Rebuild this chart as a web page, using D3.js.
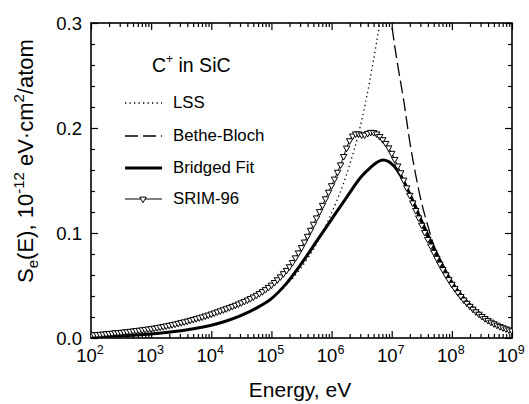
<!DOCTYPE html>
<html><head><meta charset="utf-8">
<script src="https://cdn.jsdelivr.net/npm/d3@7/dist/d3.min.js"></script>
<style>
body{margin:0;background:#fff}
svg{display:block}
text{font-family:"Liberation Sans",Arial,Helvetica,sans-serif;fill:#000}
</style>
</head><body>
<svg id="chart" width="529" height="404"></svg>
<script>
// ---------------- data (log10 of energy in eV, Se in 1e-12 eV cm^2/atom) ----------------
const xTickExponents = [2, 3, 4, 5, 6, 7, 8, 9];
const yTickValues = [0.0, 0.1, 0.2, 0.3];
const yTickLabels = ["0.0", "0.1", "0.2", "0.3"];
const legendTitle = "C";
const legendNames = ["LSS", "Bethe-Bloch", "Bridged Fit", "SRIM-96"];

const lssLogE = [2.0, 2.5, 3.0, 3.5, 4.0, 4.5, 5.0, 5.25, 5.5, 5.75, 6.0, 6.25, 6.5, 6.75, 6.9];
const lssS    = [0.0012, 0.0022, 0.0039, 0.0069, 0.0122, 0.0216, 0.0380, 0.0505, 0.0675, 0.0895, 0.119, 0.156, 0.207, 0.282, 0.335];

const betheLogE = [6.95, 7.0, 7.1, 7.2, 7.3, 7.4, 7.5, 7.6, 7.7, 7.8, 7.9, 8.0, 8.25, 8.5, 8.75, 9.0];
const betheS    = [0.330, 0.300, 0.260, 0.226, 0.187, 0.155, 0.128, 0.107, 0.088, 0.073, 0.062, 0.053, 0.035, 0.0215, 0.0125, 0.0066];

const bridgedLogE = [2.0, 2.25, 2.5, 2.75, 3.0, 3.25, 3.5, 3.75, 4.0, 4.25, 4.5, 4.75, 5.0, 5.25, 5.5, 5.75, 6.0, 6.25, 6.5, 6.65, 6.75, 6.85, 6.95, 7.05, 7.15, 7.25, 7.35, 7.5, 7.75, 8.0, 8.25, 8.5, 8.75, 9.0];
const bridgedS    = [0.0012, 0.0016, 0.0022, 0.0029, 0.0039, 0.0052, 0.0069, 0.0092, 0.0122, 0.0162, 0.0215, 0.0285, 0.0375, 0.0520, 0.0710, 0.0920, 0.1130, 0.1340, 0.1540, 0.1625, 0.1672, 0.1695, 0.1680, 0.1630, 0.1545, 0.1435, 0.1310, 0.1110, 0.0800, 0.0530, 0.0345, 0.0215, 0.0125, 0.0065];

const srimLogE = [2.00,2.05,2.10,2.15,2.20,2.25,2.30,2.35,2.40,2.45,2.50,2.55,2.60,2.65,2.70,2.75,2.80,2.85,2.90,2.95,
3.00,3.05,3.10,3.15,3.20,3.25,3.30,3.35,3.40,3.45,3.50,3.55,3.60,3.65,3.70,3.75,3.80,3.85,3.90,3.95,
4.00,4.05,4.10,4.15,4.20,4.25,4.30,4.35,4.40,4.45,4.50,4.55,4.60,4.65,4.70,4.75,4.80,4.85,4.90,4.95,
5.00,5.05,5.10,5.15,5.20,5.25,5.30,5.35,5.40,5.45,5.50,5.55,5.60,5.65,5.70,5.75,5.80,5.85,5.90,5.95,
6.00,6.05,6.10,6.15,6.20,6.25,6.30,6.35,6.40,6.45,6.50,6.55,6.60,6.65,6.70,6.75,6.80,6.85,6.90,6.95,
7.00,7.05,7.10,7.15,7.20,7.25,7.30,7.35,7.40,7.45,7.50,7.55,7.60,7.65,7.70,7.75,7.80,7.85,7.90,7.95,
8.00,8.05,8.10,8.15,8.20,8.25,8.30,8.35,8.40,8.45,8.50,8.55,8.60,8.65,8.70,8.75,8.80,8.85,8.90,8.95,9.00];
const srimS = [0.0030,0.0032,0.0034,0.0036,0.0039,0.0041,0.0044,0.0047,0.0050,0.0052,0.0055,0.0058,0.0061,0.0065,0.0068,0.0072,0.0075,0.0079,0.0083,0.0087,
0.0090,0.0095,0.0100,0.0105,0.0110,0.0116,0.0122,0.0128,0.0134,0.0141,0.0148,0.0155,0.0162,0.0170,0.0178,0.0186,0.0194,0.0202,0.0211,0.0220,
0.0230,0.0240,0.0250,0.0260,0.0270,0.0280,0.0291,0.0302,0.0313,0.0325,0.0337,0.0350,0.0363,0.0377,0.0392,0.0408,0.0425,0.0443,0.0462,0.0483,
0.0505,0.0530,0.0556,0.0584,0.0614,0.0645,0.0680,0.0720,0.0765,0.0812,0.0862,0.0915,0.0970,0.1027,0.1085,0.1145,0.1205,0.1265,0.1327,0.1390,
0.1452,0.1515,0.1580,0.1650,0.1730,0.1810,0.1880,0.1925,0.1945,0.1945,0.1935,0.1935,0.1950,0.1960,0.1958,0.1945,0.1920,0.1890,0.1855,0.1812,
0.1760,0.1702,0.1640,0.1575,0.1505,0.1432,0.1360,0.1288,0.1216,0.1145,0.1075,0.1006,0.0940,0.0877,0.0817,0.0760,0.0705,0.0653,0.0603,0.0557,
0.0513,0.0472,0.0433,0.0397,0.0363,0.0332,0.0303,0.0276,0.0251,0.0228,0.0207,0.0187,0.0169,0.0152,0.0137,0.0123,0.0110,0.0099,0.0088,0.0078,0.0069];

// ---------------- layout ----------------
const svg = d3.select("#chart");
const L = 91, R = 512, T = 23, B = 338;
const x = d3.scaleLog().domain([1e2, 1e9]).range([L, R]);
const y = d3.scaleLinear().domain([0, 0.3]).range([B, T]);

const pts = (le, s) => le.map((v, i) => [Math.pow(10, v), s[i]]);

svg.append("defs").append("clipPath").attr("id", "clip")
  .append("rect").attr("x", L).attr("y", T).attr("width", R - L).attr("height", B - T);

// ticks
const majorX = xTickExponents.map(e => Math.pow(10, e));
const minorX = [];
xTickExponents.slice(0, -1).forEach(e => { for (let m = 2; m <= 9; m++) minorX.push(m * Math.pow(10, e)); });
const minorY = d3.range(1, 15).map(i => i * 0.02).filter(v => Math.abs(v * 10 - Math.round(v * 10)) > 1e-6);

function axis(gen, vals, size, tx, ty) {
  const g = svg.append("g").attr("transform", `translate(${tx},${ty})`)
    .call(gen.tickValues(vals).tickSize(size).tickFormat(""));
  g.select(".domain").remove();
  g.selectAll("line").attr("stroke", "#000").attr("stroke-width", 1.2);
}
axis(d3.axisBottom(x), majorX, -7, 0, B);
axis(d3.axisBottom(x), minorX, -4, 0, B);
axis(d3.axisTop(x), majorX, -7, 0, T);
axis(d3.axisTop(x), minorX, -4, 0, T);
axis(d3.axisLeft(y), yTickValues, -7, L, 0);
axis(d3.axisLeft(y), minorY, -4, L, 0);
axis(d3.axisRight(y), yTickValues, -7, R, 0);
axis(d3.axisRight(y), minorY, -4, R, 0);

// frame
svg.append("rect").attr("x", L).attr("y", T).attr("width", R - L).attr("height", B - T)
  .attr("fill", "none").attr("stroke", "#000").attr("stroke-width", 1.6);

// x tick labels
xTickExponents.forEach(e => {
  const t = svg.append("text").attr("x", x(Math.pow(10, e)) - 1).attr("y", 362)
    .attr("text-anchor", "middle").attr("font-size", 18.5);
  t.append("tspan").text("10");
  t.append("tspan").attr("font-size", 12.5).attr("dy", -8).text(e);
});
// y tick labels
yTickValues.forEach((v, i) => {
  svg.append("text").attr("x", 82).attr("y", y(v) + 6.5).attr("text-anchor", "end")
    .attr("font-size", 18.5).text(yTickLabels[i]);
});

// axis titles
svg.append("text").attr("x", 300).attr("y", 397).attr("text-anchor", "middle")
  .attr("font-size", 21).text("Energy, eV");
const yt = svg.append("text").attr("transform", "translate(33,161) rotate(-90)")
  .attr("text-anchor", "middle").attr("font-size", 22);
yt.append("tspan").text("S");
yt.append("tspan").attr("font-size", 15).attr("dy", 5).text("e");
yt.append("tspan").attr("dy", -5).text("(E), 10");
yt.append("tspan").attr("font-size", 15).attr("dy", -9).text("-12");
yt.append("tspan").attr("dy", 9).text(" eV\u00B7cm");
yt.append("tspan").attr("font-size", 15).attr("dy", -9).text("2");
yt.append("tspan").attr("dy", 9).text("/atom");

// curves
const line = d3.line().x(d => x(d[0])).y(d => y(d[1])).curve(d3.curveMonotoneX);
const plot = svg.append("g").attr("clip-path", "url(#clip)");

plot.append("path").datum(pts(lssLogE, lssS)).attr("d", line)
  .attr("fill", "none").attr("stroke", "#000").attr("stroke-width", 1.3).attr("stroke-dasharray", "1.3,3.2");
plot.append("path").datum(pts(betheLogE, betheS)).attr("d", line)
  .attr("fill", "none").attr("stroke", "#000").attr("stroke-width", 1.3).attr("stroke-dasharray", "13,5");
plot.append("path").datum(pts(bridgedLogE, bridgedS)).attr("d", line)
  .attr("fill", "none").attr("stroke", "#000").attr("stroke-width", 3);
const srimPts = pts(srimLogE, srimS);
plot.append("path").datum(srimPts).attr("d", line)
  .attr("fill", "none").attr("stroke", "#000").attr("stroke-width", 1);
const tri = d3.symbol().type(d3.symbolTriangle).size(18);
plot.selectAll(".srim").data(srimPts).join("path")
  .attr("transform", d => `translate(${x(d[0])},${y(d[1])}) rotate(180)`)
  .attr("d", tri).attr("fill", "#fff").attr("stroke", "#000").attr("stroke-width", 1);

// legend
svg.append("text").attr("x", 152).attr("y", 72).attr("font-size", 19.5)
  .call(t => {
    t.append("tspan").text(legendTitle);
    t.append("tspan").attr("font-size", 12).attr("dy", -9).text("+");
    t.append("tspan").attr("dy", 9).text(" in SiC");
  });
const legY = [108, 141, 173, 204];
const legStyles = [
  {w: 1.3, dash: "1.3,3.2"}, {w: 1.3, dash: "13,5"}, {w: 3, dash: null}, {w: 1, dash: null}
];
legendNames.forEach((n, i) => {
  const ly = legY[i] - 5;
  svg.append("line").attr("x1", 125).attr("x2", 162).attr("y1", ly).attr("y2", ly)
    .attr("stroke", "#000").attr("stroke-width", legStyles[i].w)
    .attr("stroke-dasharray", legStyles[i].dash);
  svg.append("text").attr("x", 173).attr("y", legY[i]).attr("font-size", 16.8).text(n);
});
svg.append("path").attr("transform", `translate(143,${legY[3] - 5}) rotate(180)`)
  .attr("d", tri).attr("fill", "#fff").attr("stroke", "#000").attr("stroke-width", 1);
</script>
</body></html>
